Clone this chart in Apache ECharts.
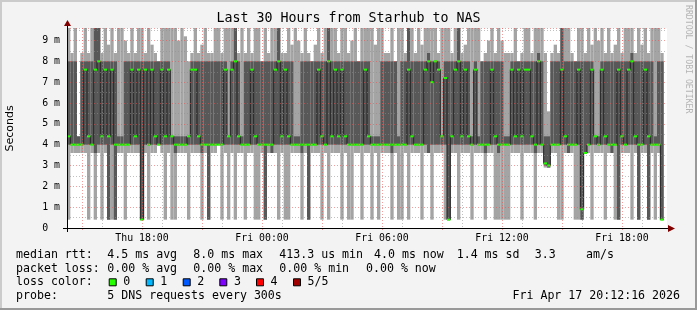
<!DOCTYPE html>
<html><head><meta charset="utf-8">
<script src="https://cdn.jsdelivr.net/npm/echarts@6/dist/echarts.min.js"></script>
<style>html,body{margin:0;padding:0;background:#f3f3f3}#c{width:697px;height:310px}</style>
</head><body><div id="c"></div>
<script>
// ---- data (ms), one column = 10 minutes, starting Thu 14:15 ----
const startHour = 14.25;          // hours from Thu 00:00
const endHour = 44.25;            // Fri 20:15
const colHours = 1/6;             // 10 minutes
// sorted ping values per column: p1 (lowest) .. p5 (highest), med = median
const p1 = [
0.4,3.6,3.6,3.6,3.6,3.6,0.4,3.6,0.4,3.6,
0.4,3.6,0.4,0.4,0.4,3.6,3.6,0.4,3.6,3.6,
3.6,3.6,0.4,3.6,0.4,3.6,3.6,4.0,3.6,0.4,
3.6,0.4,0.4,3.6,3.6,3.6,0.4,3.6,3.6,3.6,
0.4,3.6,0.4,3.6,3.6,4.0,0.4,3.6,0.4,3.6,
0.4,3.6,3.6,0.4,3.6,3.6,0.4,0.4,3.6,0.4,
3.6,3.6,3.6,0.4,3.6,0.4,0.4,3.6,3.6,3.6,
0.4,3.6,0.4,3.6,3.6,3.6,0.4,3.6,0.4,3.6,
3.6,3.6,0.4,3.6,0.4,0.4,3.6,3.6,0.4,3.6,
3.6,0.4,3.6,0.4,3.6,3.6,3.6,0.4,3.6,0.4,
0.4,3.6,0.4,3.6,3.6,3.6,0.4,3.6,3.6,0.4,
3.6,3.6,3.6,0.4,0.4,3.6,3.6,0.4,3.6,3.6,
3.6,0.4,3.6,3.6,3.6,0.4,3.6,3.6,0.4,0.4,
0.4,0.4,0.4,3.6,3.6,3.6,0.4,3.6,3.6,3.6,
0.4,3.6,3.6,2.9,2.9,3.6,3.6,0.4,0.4,3.6,
3.6,3.6,0.4,0.4,0.4,3.6,3.6,0.4,3.6,3.6,
3.6,0.4,3.6,3.6,0.4,0.4,3.6,3.6,3.6,0.4,
3.6,0.4,3.6,3.6,0.4,3.6,0.4,3.6,0.4];
const p2 = [
4.0,4.0,4.0,4.0,4.0,4.0,4.0,4.0,3.6,4.0,
4.0,4.0,0.4,4.0,0.4,4.0,4.0,4.0,4.0,4.0,
4.0,4.0,0.4,4.0,4.0,4.0,4.0,4.0,4.0,4.0,
4.0,4.0,3.6,4.0,4.0,4.0,4.0,4.0,4.0,4.0,
3.6,4.0,0.4,4.0,4.0,4.0,4.0,4.0,4.0,4.0,
4.0,4.0,4.0,4.0,4.0,4.0,4.0,4.0,4.0,0.4,
4.0,3.6,4.0,4.0,4.0,4.0,4.0,4.0,4.0,4.0,
3.6,4.0,0.4,4.0,4.0,4.0,4.0,4.0,4.0,4.0,
4.0,4.0,4.0,4.0,4.0,4.0,4.0,4.0,4.0,4.0,
4.0,4.0,4.0,4.0,4.0,4.0,4.0,3.6,4.0,4.0,
4.0,4.0,4.0,4.0,4.0,4.0,4.0,4.0,3.6,4.0,
4.0,4.0,4.0,4.0,0.4,4.0,4.0,4.0,4.0,4.0,
4.0,4.0,4.0,4.0,4.0,3.6,4.0,4.0,4.0,3.6,
4.0,4.0,4.0,4.0,4.0,4.0,4.0,4.0,4.0,4.0,
3.6,4.0,4.0,3.0,2.9,4.0,4.0,4.0,4.0,4.0,
3.6,4.0,4.0,4.0,0.4,3.6,4.0,4.0,4.0,4.0,
4.0,4.0,4.0,3.6,4.0,0.4,4.0,4.0,4.0,4.0,
4.0,0.4,4.0,4.0,0.4,4.0,4.0,4.0,0.4];
const med = [
4.4,4.0,4.0,4.0,4.0,7.6,4.4,4.0,7.6,8.0,
4.4,7.6,4.4,7.6,4.0,4.0,4.0,4.0,4.0,7.6,
4.4,7.6,0.4,7.6,4.0,7.6,4.4,4.0,7.6,4.4,
7.6,4.4,4.0,4.0,4.0,4.0,4.4,7.6,7.6,4.4,
4.0,4.0,4.0,4.0,4.0,4.0,4.0,7.6,4.4,7.6,
8.0,4.4,4.0,4.0,4.0,7.6,4.4,4.0,4.0,4.0,
4.0,4.0,7.6,8.0,4.4,7.6,4.4,4.0,4.0,4.0,
4.0,4.0,4.0,4.0,4.0,7.6,4.4,4.0,8.0,4.4,
7.6,4.4,7.6,4.4,4.0,4.0,4.0,4.0,4.0,7.6,
4.4,4.0,4.0,4.0,4.0,4.0,4.0,4.0,4.0,4.0,
4.0,4.0,7.6,4.4,4.0,4.0,4.0,7.6,8.0,7.0,
8.0,7.6,4.4,7.2,0.4,4.4,7.6,8.0,4.4,7.6,
4.4,4.0,7.6,4.0,4.0,4.0,4.0,7.6,4.4,4.0,
4.0,4.0,4.0,7.6,4.4,7.6,4.4,7.6,7.6,4.4,
4.0,8.0,4.0,3.1,3.0,4.0,4.0,4.0,7.6,4.4,
4.0,4.0,4.0,7.6,0.9,3.6,4.0,7.6,4.4,4.0,
7.6,4.4,4.0,4.0,4.0,7.6,4.4,4.0,7.6,8.0,
4.4,4.0,4.0,7.6,4.4,4.0,4.0,4.0,0.4];
const p4 = [
8.0,8.0,8.0,4.4,8.0,8.0,8.0,8.0,9.6,9.6,
8.0,8.0,8.0,8.0,8.0,4.4,4.4,8.0,8.0,8.0,
8.0,8.0,8.0,8.0,8.0,8.0,8.0,8.0,8.0,8.0,
8.0,4.4,4.4,4.4,4.4,4.4,4.4,8.0,8.0,8.0,
8.0,8.0,8.0,8.0,8.0,8.0,8.0,8.0,4.4,8.0,
9.6,8.0,4.4,8.0,8.0,8.0,8.0,8.0,8.0,8.0,
8.0,8.0,8.0,9.6,8.0,8.0,8.0,8.0,4.4,4.4,
8.0,8.0,8.0,8.0,8.0,8.0,8.0,8.0,9.6,8.0,
8.0,8.0,8.0,8.0,8.0,8.0,8.0,8.0,8.0,8.0,
8.0,4.4,4.4,4.4,8.0,8.0,8.0,8.0,8.0,4.4,
8.0,8.0,9.6,8.0,8.0,8.0,8.0,8.0,8.4,8.0,
8.0,8.0,4.4,8.0,8.0,8.0,8.0,9.6,8.0,8.0,
8.0,4.4,8.0,4.4,8.0,8.0,8.0,8.0,8.0,8.0,
8.0,4.4,4.4,8.0,8.0,8.0,8.0,8.0,8.0,8.0,
8.0,8.4,8.0,4.4,4.4,8.0,8.0,8.0,9.6,8.0,
8.0,8.0,8.0,8.0,8.0,8.0,8.0,8.0,4.4,4.4,
8.0,8.0,8.0,8.0,8.0,8.0,8.0,8.0,8.0,8.4,
8.0,8.0,8.0,8.0,8.0,8.0,4.4,8.0,8.0];
const p5 = [
9.6,8.4,9.6,4.4,8.4,9.6,8.4,9.6,9.6,9.6,
8.4,9.6,8.8,9.6,8.4,9.6,9.6,9.0,8.4,9.6,
8.4,9.6,9.6,8.4,9.6,8.8,8.4,8.0,9.6,9.6,
9.6,9.6,9.6,9.0,9.6,9.2,8.0,8.4,9.6,8.4,
8.8,9.6,8.4,8.4,9.6,9.6,8.4,9.6,9.6,9.6,
9.6,8.4,9.6,8.4,9.6,8.4,9.6,9.6,8.0,9.6,
8.4,9.6,9.6,9.6,8.4,8.4,9.6,8.8,9.6,9.0,
8.4,9.6,8.4,8.0,8.8,9.6,8.4,9.6,9.6,9.6,
9.6,8.4,9.6,9.6,8.4,9.0,9.6,8.0,9.6,9.6,
9.6,9.6,8.8,9.6,9.6,8.4,8.4,9.6,8.0,9.6,
9.6,8.4,9.6,9.6,8.4,9.6,8.8,9.6,9.6,9.6,
9.6,8.4,9.6,9.6,9.6,8.4,9.6,9.6,8.4,8.8,
9.6,9.6,9.6,9.6,8.0,8.4,9.0,9.6,8.4,9.6,
9.0,8.4,8.4,8.4,9.6,8.0,8.4,9.6,9.6,8.4,
9.6,9.6,9.6,8.4,5.6,8.4,8.8,8.4,9.6,9.6,
9.6,8.4,8.0,9.6,9.6,8.4,9.6,8.8,9.6,9.0,
9.6,8.4,9.6,8.4,8.8,9.6,8.4,9.6,9.6,9.6,
8.4,9.6,8.8,9.6,8.4,9.6,9.6,9.6,8.4];
const majorGridHours = [15,18,21,24,27,30,33,36,39,42];
const minorGridHours = [16,19,22,25,28,31,34,37,40,43];
const xLabelHours = [18,24,30,36,42];
const xLabelText = ['Thu 18:00','Fri 00:00','Fri 06:00','Fri 12:00','Fri 18:00'];
const yMax = 9.6;
const lossColors = ['#26ff00','#00b8ff','#0059ff','#7e00ff','#ff0000','#a10000'];
const lossNames = ['0','1','2','3','4','5/5'];

// ---- layout ----
const G = {left:67, top:28, width:600, height:200};
const MONO = '"DejaVu Sans Mono", monospace';
const rows = p1.map((v,i)=>[startHour+i*colHours, p1[i], p2[i], med[i], p4[i], p5[i]]);
const medLine = [];
med.forEach((m,i)=>{ medLine.push([startHour+i*colHours, m]); medLine.push([startHour+(i+1)*colHours, m]); });

function clip(r, params){ return echarts.graphic.clipRectByRect(r, params.coordSys); }
function renderSmoke(params, api){
  const t = api.value(0);
  const a = api.coord([t, api.value(1)]), b = api.coord([t+colHours, api.value(5)]);
  const c = api.coord([t, api.value(2)]), d = api.coord([t+colHours, api.value(4)]);
  const children = [];
  const r1 = clip({x:a[0], y:b[1], width:b[0]-a[0], height:a[1]-b[1]}, params);
  if (r1) children.push({type:'rect', shape:r1, style:{fill:'#a4a4a4'}});
  const r2 = clip({x:c[0], y:d[1], width:d[0]-c[0], height:c[1]-d[1]}, params);
  if (r2 && r2.height>0) children.push({type:'rect', shape:r2, style:{fill:'#585858'}});
  return {type:'group', children};
}
function renderMedian(params, api){
  const t = api.value(0);
  const a = api.coord([t, api.value(3)]), b = api.coord([t+colHours, api.value(3)]);
  return {type:'rect', shape:{x:a[0], y:a[1]-1, width:b[0]-a[0], height:2}, style:{fill:lossColors[0]}};
}
function renderGrid(params, api){
  const h = api.value(0), major = api.value(1);
  const top = api.coord([h, yMax]), bot = api.coord([h, 0]);
  return {type:'line', shape:{x1:Math.round(top[0])+0.5, y1:top[1], x2:Math.round(top[0])+0.5, y2:bot[1]+(major?3:0)},
    style:{stroke: major ? 'rgba(233,80,80,0.56)' : 'rgba(143,143,143,0.56)', lineWidth:1, lineDash:[1,2]}};
}
const gridData = majorGridHours.map(h=>[h,1]).concat(minorGridHours.map(h=>[h,0]));

const chart = echarts.init(document.getElementById('c'), null, {renderer:'canvas'});
const texts = [];
function T(text, x, y, opt){ texts.push(Object.assign({type:'text', x, y, style:{text, fill:'#000', font:'11.6px '+MONO, verticalAlign:'middle'}}, opt||{})); }
texts.push({type:'text', x:348.5, y:19, style:{text:'Last 30 Hours from Starhub to NAS', font:'13.3px '+MONO, fill:'#000', align:'center', verticalAlign:'middle'}});
texts.push({type:'text', x:10, y:128.5, rotation:Math.PI/2, style:{text:'Seconds', font:'11px "DejaVu Sans"', fill:'#000', align:'center', verticalAlign:'middle'}});
texts.push({type:'text', x:688, y:5, rotation:-Math.PI/2, style:{text:'RRDTOOL / TOBI OETIKER', font:'8.2px '+MONO, fill:'#b4b4b4', align:'left', verticalAlign:'middle'}});
const r1y=254.5, r2y=268.5, r3y=282.3, r4y=295.8;
T('median rtt:',16,r1y); T('4.5 ms avg',107.3,r1y); T('8.0 ms max',193.3,r1y); T('413.3 us min',279.3,r1y);
T('4.0 ms now',374,r1y); T('1.4 ms sd',456.7,r1y); T('3.3',534.7,r1y); T('am/s',586,r1y);
T('packet loss:',16,r2y); T('0.00 % avg',107.3,r2y); T('0.00 % max',193.3,r2y); T('0.00 % min',279.3,r2y); T('0.00 % now',366,r2y);
T('loss color:',16,r3y);
const boxX=[108.7,145.7,182.7,219.3,256,293];
lossColors.forEach((c,i)=>{
  texts.push({type:'rect', shape:{x:boxX[i]+0.5, y:r3y-3.5, width:7, height:7}, style:{fill:c, stroke:'#000', lineWidth:1}});
  T(lossNames[i], boxX[i]+14.6, r3y);
});
T('probe:',16,r4y); T('5 DNS requests every 300s',107.3,r4y);
texts.push({type:'text', x:680, y:r4y, style:{text:'Fri Apr 17 20:12:16 2026', font:'11.6px '+MONO, fill:'#000', align:'right', verticalAlign:'middle'}});
texts.push({type:'rect', shape:{x:0,y:0,width:697,height:2}, style:{fill:'#cbcbcb'}});
texts.push({type:'rect', shape:{x:0,y:0,width:2,height:310}, style:{fill:'#cbcbcb'}});
texts.push({type:'rect', shape:{x:0,y:308,width:697,height:2}, style:{fill:'#999999'}});
texts.push({type:'rect', shape:{x:695,y:0,width:2,height:310}, style:{fill:'#999999'}});
const x0=G.left, y0=G.top+G.height;
texts.push({type:'line', z:20, shape:{x1:x0-4, y1:y0+0.5, x2:G.left+G.width+2, y2:y0+0.5}, style:{stroke:'#000', lineWidth:1}});
texts.push({type:'line', z:20, shape:{x1:x0+0.5, y1:y0+4, x2:x0+0.5, y2:G.top-3}, style:{stroke:'#000', lineWidth:1}});
texts.push({type:'polygon', z:20, shape:{points:[[G.left+G.width+1,y0-3],[G.left+G.width+8,y0+0.5],[G.left+G.width+1,y0+4]]}, style:{fill:'#800000'}});
texts.push({type:'polygon', z:20, shape:{points:[[x0-3,G.top-2],[x0+0.5,G.top-8],[x0+4,G.top-2]]}, style:{fill:'#800000'}});

chart.setOption({
  animation:false,
  backgroundColor:'#f3f3f3',
  grid:{left:G.left, top:G.top, width:G.width, height:G.height, show:true, backgroundColor:'#ffffff', borderWidth:0},
  xAxis:{type:'value', min:startHour, max:endHour, z:5,
    axisLine:{show:false}, axisTick:{show:false}, splitLine:{show:false},
    axisLabel:{customValues:xLabelHours, formatter:v=>{const k=xLabelHours.indexOf(Math.round(v)); return k>=0?xLabelText[k]:'';},
      fontFamily:MONO, fontSize:9.9, color:'#000', margin:5}},
  yAxis:{type:'value', min:0, max:yMax, interval:1, z:5,
    axisLine:{show:false}, axisTick:{show:false},
    axisLabel:{showMaxLabel:false, formatter:v=>v===0?'0  ':(v+' m'), fontFamily:MONO, fontSize:9.9, color:'#000', margin:7},
    splitLine:{show:true, lineStyle:{color:'rgba(233,80,80,0.56)', width:1, type:[1,2]}},
    minorTick:{show:false, splitNumber:2},
    minorSplitLine:{show:true, lineStyle:{color:'rgba(143,143,143,0.56)', width:1, type:[1,2]}}},
  series:[
    {type:'custom', name:'smoke', z:1, renderItem:renderSmoke, data:rows, encode:{x:0,y:[1,5]}, silent:true},
    {type:'line', name:'median', z:2, data:medLine, symbol:'none', lineStyle:{color:'#202020', width:1}, silent:true},
    {type:'custom', name:'medianMark', z:3, renderItem:renderMedian, data:rows, encode:{x:0,y:3}, silent:true},
    {type:'custom', name:'xgrid', z:6, renderItem:renderGrid, data:gridData, encode:{x:0}, clip:false, silent:true}
  ],
  graphic:texts
});
</script></body></html>
